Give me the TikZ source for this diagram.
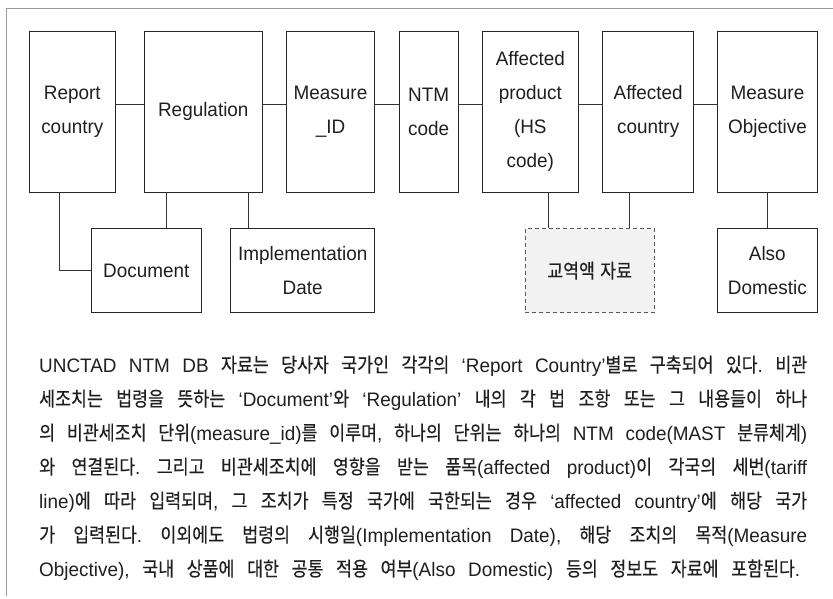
\documentclass[tikz,border=0pt]{standalone}
\usepackage{fontspec}
\setmainfont{Liberation Sans}[FakeStretch=0.97]
\newfontfamily\latfont{Liberation Sans}[FakeStretch=0.97]
\newfontfamily\kofont{Noto Sans CJK KR}[Scale=1.02, FakeStretch=0.87, FakeBold=0.3]
\XeTeXinterchartokenstate=1
\newXeTeXintercharclass\hangulclass
\newcount\hgcnt
\hgcnt="AC00
\loop
  \XeTeXcharclass\hgcnt=\hangulclass
  \ifnum\hgcnt<"D7A3 \advance\hgcnt by 1
\repeat
\XeTeXinterchartoks 0 \hangulclass = {\kofont}
\XeTeXinterchartoks 4095 \hangulclass = {\kofont}
\XeTeXinterchartoks \hangulclass 0 = {\latfont}
\XeTeXinterchartoks \hangulclass 4095 = {\latfont}
\begin{document}
\begin{tikzpicture}[x=1pt,y=-1pt,
  every node/.style={font=\fontsize{19.5}{34}\selectfont\frenchspacing, text=black!88},
  box/.style={draw=black!85, line width=0.9pt, inner sep=0pt, align=center},
  tradebox/.style={draw=black!65, fill=black!5, line width=0.9pt, dash pattern=on 4pt off 3pt, inner sep=0pt, align=center},
  conn/.style={draw=black!80, line width=0.9pt},
  frameline/.style={draw=black!40, line width=1.2pt}]
\useasboundingbox (0,0) rectangle (833,599);
\fill[white] (0,0) rectangle (833,599);
% frame
\coordinate (ftl) at (6,8.5);
\coordinate (ftr) at (833,8.5);
\coordinate (fbl) at (6,596);
\draw[frameline] (ftr) -- (ftl);
\draw[frameline, line width=1pt] (ftl) -- (fbl);
% top row
\node[box, minimum width=86pt, minimum height=160.3pt] (rc) at (72.3,111.85) {Report\\country};
\node[box, minimum width=118pt, minimum height=160.3pt] (reg) at (203.3,111.85) {Regulation};
\node[box, minimum width=88.4pt, minimum height=160.3pt] (mid) at (330.5,111.85) {Measure\\\_ID};
\node[box, minimum width=59.3pt, minimum height=160.3pt] (ntm) at (428.65,111.85) {NTM\\code};
\node[box, minimum width=96pt, minimum height=160.3pt] (ap) at (530.3,111.85) {Affected\\product\\(HS\\code)};
\node[box, minimum width=91pt, minimum height=160.3pt] (ac) at (648.2,111.85) {Affected\\country};
\node[box, minimum width=100.4pt, minimum height=160.3pt] (mo) at (767.5,111.85) {Measure\\Objective};
% bottom row
\node[box, minimum width=109.3pt, minimum height=84pt] (doc) at (146.35,270.7) {Document};
\node[box, minimum width=144pt, minimum height=84pt] (imp) at (302.7,270.7) {Implementation\\Date};
\node[tradebox, minimum width=129.3pt, minimum height=84pt] (trade) at (589.65,270.7) {교역액 자료};
\node[box, minimum width=100pt, minimum height=84pt] (ad) at (767.3,270.7) {Also\\Domestic};
% horizontal connectors
\draw[conn] ([yshift=7.5pt]rc.east) -- ([yshift=7.5pt]reg.west);
\draw[conn] ([yshift=7.5pt]reg.east) -- ([yshift=7.5pt]mid.west);
\draw[conn] ([yshift=7.5pt]mid.east) -- ([yshift=7.5pt]ntm.west);
\draw[conn] ([yshift=7.5pt]ntm.east) -- ([yshift=7.5pt]ap.west);
\draw[conn] ([yshift=7.5pt]ap.east) -- ([yshift=7.5pt]ac.west);
\draw[conn] ([yshift=7.5pt]ac.east) -- ([yshift=7.5pt]mo.west);
% vertical connectors
\draw[conn] ([xshift=-13pt]rc.south) |- (doc.west);
\draw[conn] ([xshift=-36.6pt]reg.south) -- ([xshift=-36.6pt]reg.south |- doc.north);
\draw[conn] ([xshift=45.4pt]reg.south) -- ([xshift=45.4pt]reg.south |- imp.north);
\draw[conn] ([xshift=18pt]ap.south) -- ([xshift=18pt]ap.south |- trade.north);
\draw[conn] ([xshift=-18.9pt]ac.south) -- ([xshift=-18.9pt]ac.south |- trade.north);
\draw[conn] (mo.south) -- (mo.south |- ad.north);
% paragraph
\node[anchor=base west, inner sep=0pt] (para) at (39,372) {\begin{minipage}[t]{768pt}\baselineskip=34pt
\spaceskip=7.5pt plus 8pt minus 3pt
\hbox to\linewidth{UNCTAD NTM DB 자료는 당사자 국가인 각각의 ‘Report Country’별로 구축되어 있다. 비관}
\hbox to\linewidth{세조치는 법령을 뜻하는 ‘Document’와 ‘Regulation’ 내의 각 법 조항 또는 그 내용들이 하나}
\hbox to\linewidth{의 비관세조치 단위(measure\_id)를 이루며, 하나의 단위는 하나의 NTM code(MAST 분류체계)}
\hbox to\linewidth{와 연결된다. 그리고 비관세조치에 영향을 받는 품목(affected product)이 각국의 세번(tariff}
\hbox to\linewidth{line)에 따라 입력되며, 그 조치가 특정 국가에 국한되는 경우 ‘affected country’에 해당 국가}
\hbox to\linewidth{가 입력된다. 이외에도 법령의 시행일(Implementation Date), 해당 조치의 목적(Measure}
\hbox to 761pt{Objective), 국내 상품에 대한 공통 적용 여부(Also Domestic) 등의 정보도 자료에 포함된다.}
\end{minipage}};
\end{tikzpicture}
\end{document}
